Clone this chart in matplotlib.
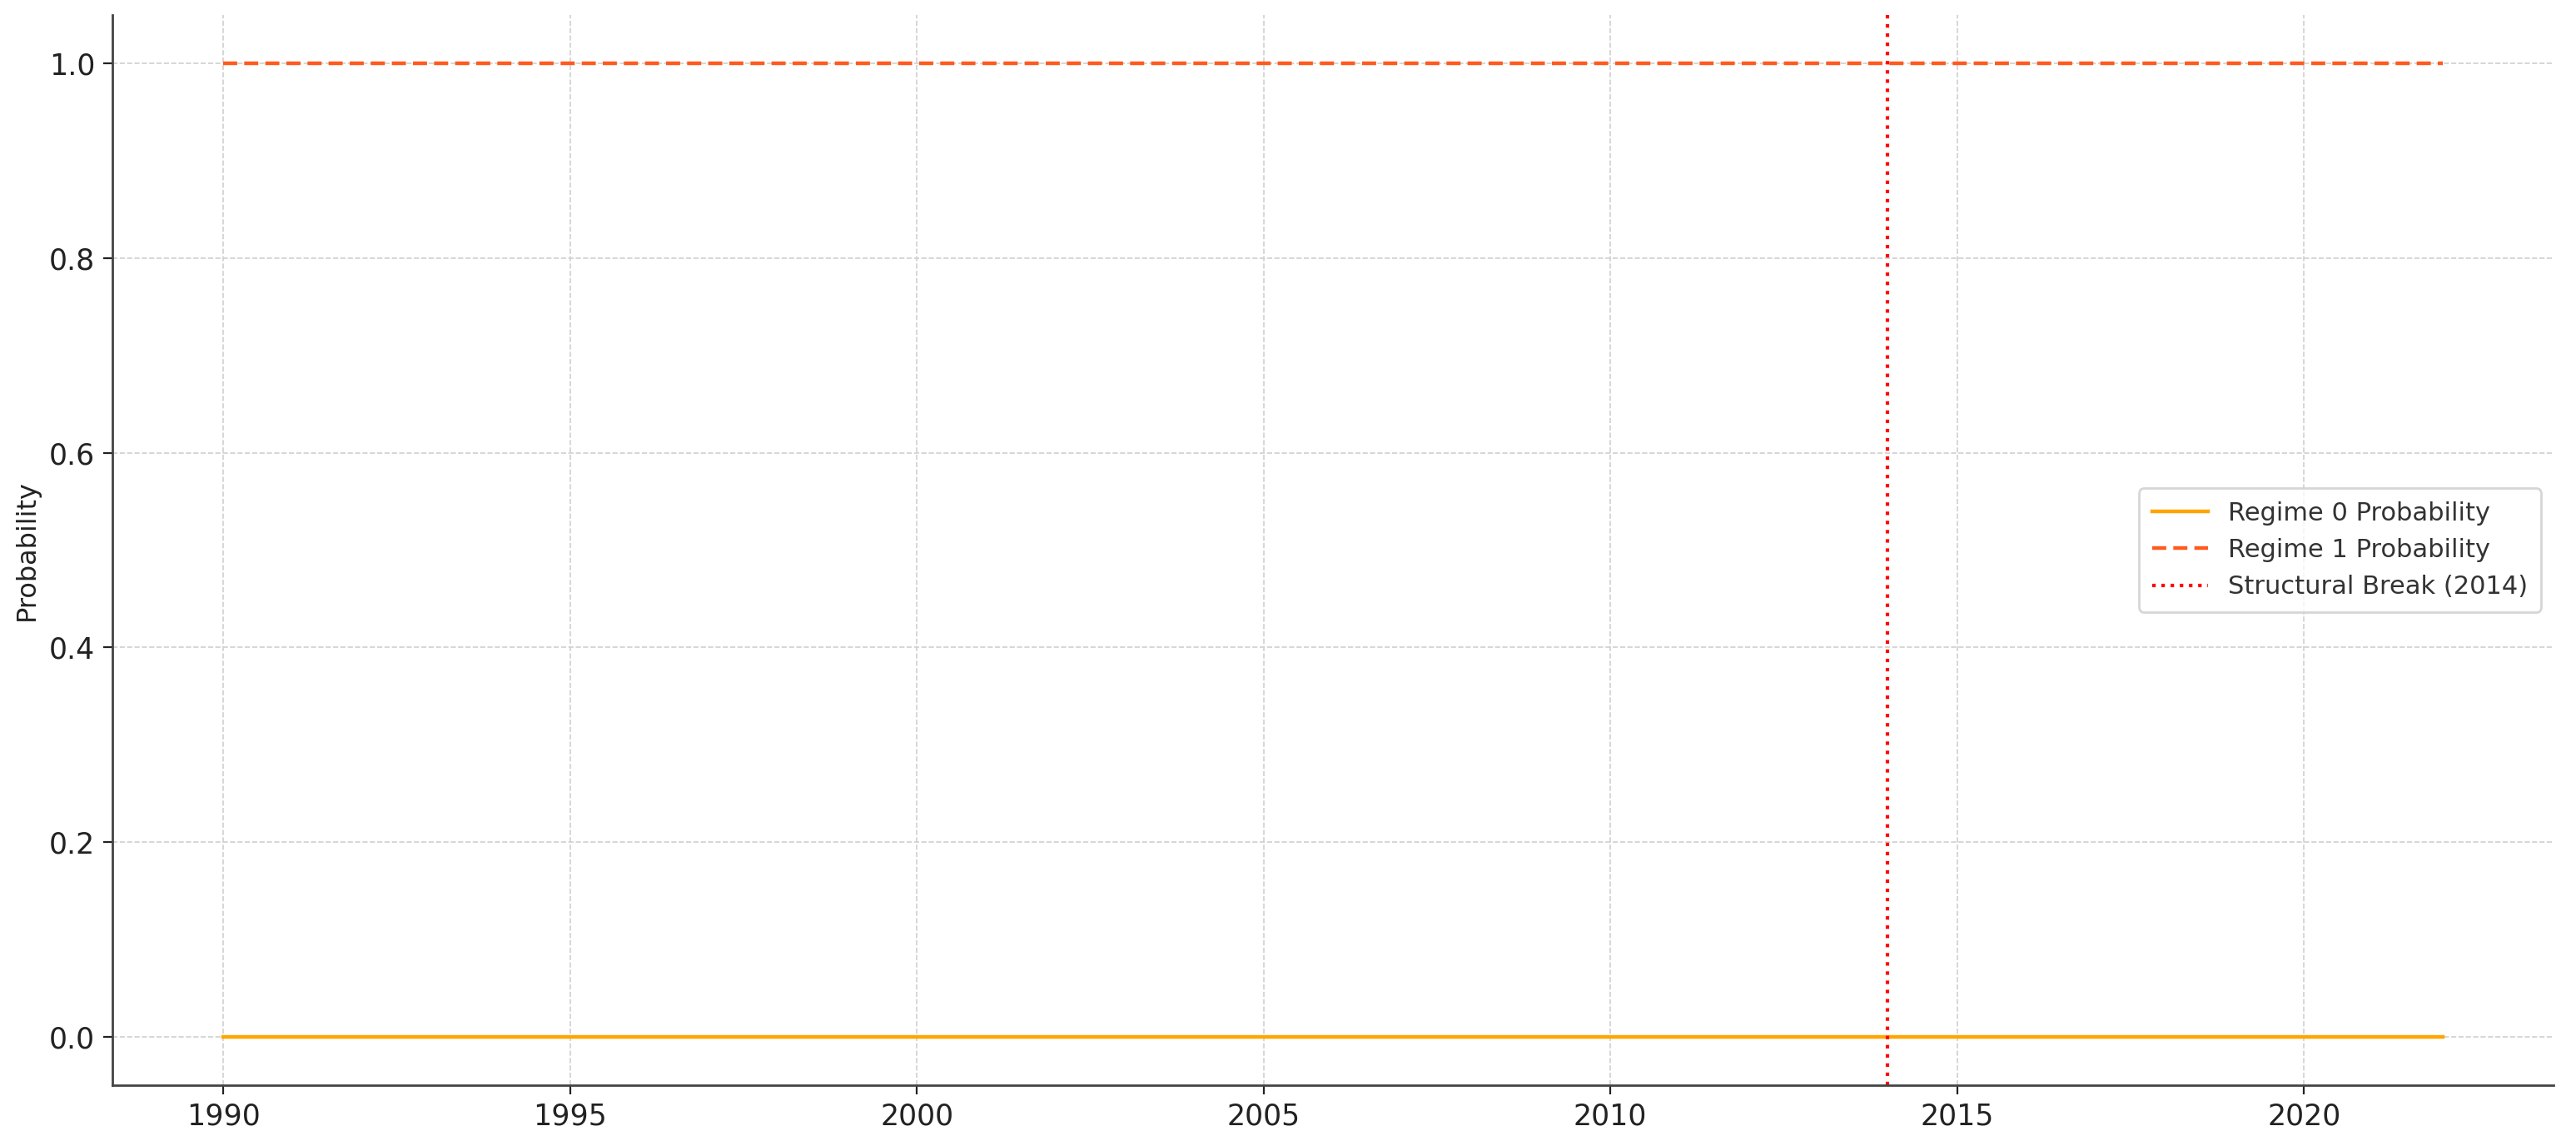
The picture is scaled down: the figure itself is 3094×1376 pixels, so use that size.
import matplotlib.pyplot as plt

years = [1990, 1991, 1992, 1993, 1994, 1995, 1996, 1997, 1998, 1999, 2000,
         2001, 2002, 2003, 2004, 2005, 2006, 2007, 2008, 2009, 2010, 2011,
         2012, 2013, 2014, 2015, 2016, 2017, 2018, 2019, 2020, 2021, 2022]
regime0_prob = [0, 0, 0, 0, 0, 0, 0, 0, 0, 0, 0, 0, 0, 0, 0, 0, 0,
                0, 0, 0, 0, 0, 0, 0, 0, 0, 0, 0, 0, 0, 0, 0, 0]
regime1_prob = [1, 1, 1, 1, 1, 1, 1, 1, 1, 1, 1, 1, 1, 1, 1, 1, 1,
                1, 1, 1, 1, 1, 1, 1, 1, 1, 1, 1, 1, 1, 1, 1, 1]
break_year = 2014

fig = plt.figure(figsize=(15.47, 6.88), dpi=200)
ax = fig.add_axes([135 / 3094, 1 - 1303 / 1376, (3067 - 135) / 3094, (1303 - 18) / 1376])

ax.plot(years, regime0_prob, color='#FFA500', lw=1.6, label='Regime 0 Probability')
ax.plot(years, regime1_prob, color='#FF5A1F', lw=1.6, ls='--', dashes=(3.8, 1.9), label='Regime 1 Probability')
ax.axvline(break_year, color='red', lw=1.5, ls=':', label='Structural Break (%d)' % break_year)

ax.set_xticks([1990, 1995, 2000, 2005, 2010, 2015, 2020])
ax.set_yticks([0.0, 0.2, 0.4, 0.6, 0.8, 1.0])
ax.grid(True, ls='--', color='#d0d0d0', lw=0.6)
ax.set_axisbelow(True)

for side in ['top', 'right']:
    ax.spines[side].set_visible(False)
for side in ['left', 'bottom']:
    ax.spines[side].set_color('#444444')
    ax.spines[side].set_linewidth(1.0)
ax.tick_params(labelsize=12.5, colors='#222222', length=4, width=0.8)

ax.set_ylabel('Probability', fontsize=11.5, color='#222222')
ax.set_xlabel('Year', fontsize=11.5, color='#222222', labelpad=7)

leg = ax.legend(loc='center right', fontsize=11, frameon=True, borderpad=0.5, handlelength=2.2)
leg.get_frame().set_edgecolor('#cccccc')
for t in leg.get_texts():
    t.set_color('#333333')

fig.savefig('out.png', dpi=200)
